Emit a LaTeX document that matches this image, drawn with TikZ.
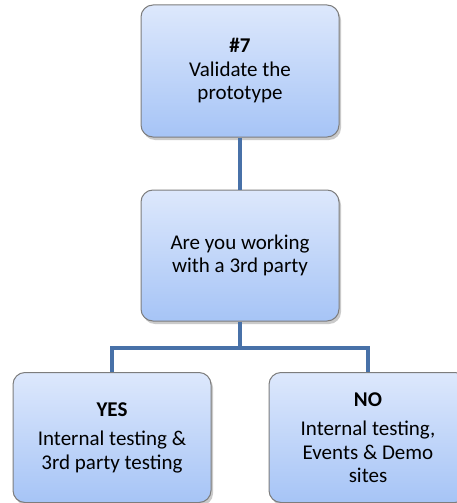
\documentclass[tikz,border=0pt]{standalone}
\usepackage{fontspec}
\setmainfont{Carlito}
\usepackage{tikz}
\usetikzlibrary{shadows}
\usepackage{xcolor}

\definecolor{boxtop}{RGB}{221,232,252}
\definecolor{boxbottom}{RGB}{166,196,246}
\definecolor{boxline}{RGB}{125,125,125}
\definecolor{linkblue}{RGB}{72,113,168}

\tikzset{
  stepbox/.style={draw=boxline, line width=1pt, rounded corners=12pt,
    top color=boxtop, bottom color=boxbottom,
    drop shadow={shadow xshift=2pt, shadow yshift=-3pt, opacity=0.35, fill=black!60},
    minimum width=198pt, align=center, inner sep=2pt,
    font=\fontsize{21}{23.5}\selectfont},
  link/.style={draw=linkblue, line width=4.5pt}
}

\begin{document}
\begin{tikzpicture}[x=1pt, y=-1pt]
    \useasboundingbox (0,0) rectangle (457,503);
    \node[stepbox, minimum height=132pt] (validate) at (240,71) {\textbf{\#7}\\Validate the\\prototype};
    \node[stepbox, minimum height=131pt] (party) at (240,255.5) {Are you working\\with a 3rd party};
    \node[stepbox, minimum height=130pt] (yes) at (112,437.5) {\textbf{YES}\\[6pt]Internal testing \&\\3rd party testing};
    \node[stepbox, minimum height=130pt] (no) at (368,437.5) {\textbf{NO}\\[6pt]Internal testing,\\Events \& Demo\\sites};
    \coordinate (fork) at (240,348);
    \draw[link] (validate.south) -- (party.north);
    \draw[link] (party.south) -- (fork) -| (yes.north);
    \draw[link] (fork) -| (no.north);
\end{tikzpicture}
\end{document}
